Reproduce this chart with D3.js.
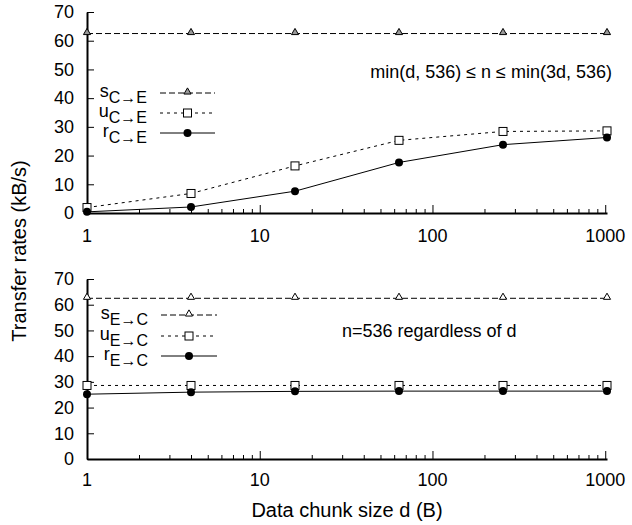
<!DOCTYPE html>
<html>
<head>
<meta charset="utf-8">
<script src="https://cdn.jsdelivr.net/npm/d3@7"></script>
<style>
  body { margin: 0; background: #fff; }
  svg { font-family: "Liberation Sans", Arial, sans-serif; }
</style>
</head>
<body>
<div id="chart"></div>
<script>
// data
const chunkSizes = [1, 4, 16, 64, 256, 1024];
const sCE = [62.5, 62.5, 62.5, 62.5, 62.5, 62.5];
const uCE = [1.9, 6.8, 16.4, 25.3, 28.4, 28.6];
const rCE = [0.4, 2.1, 7.6, 17.6, 23.8, 26.3];
const sEC = [62.5, 62.5, 62.5, 62.5, 62.5, 62.5];
const uEC = [28.6, 28.6, 28.6, 28.6, 28.6, 28.6];
const rEC = [25.2, 26.0, 26.3, 26.4, 26.4, 26.4];
const xTicks = [1, 10, 100, 1000];
const yTicks = [0, 10, 20, 30, 40, 50, 60, 70];

let svg = d3.select("#chart").append("svg")
    .attr("width", 632)
    .attr("height", 525);

let x = d3.scaleLog().domain([1, 1024]).range([87, 607]);

// minor ticks 2..9 per decade
let minors = [];
[1, 10, 100].forEach(d => { for (let k = 2; k <= 9; k++) minors.push(d * k); });

panel({
    y0: 213, y1: 12,
    series: [
        { key: "s", sub: "C\u2192E", vals: sCE, dash: "6,3", mark: "tri", fill: "#999" },
        { key: "u", sub: "C\u2192E", vals: uCE, dash: "3,4", mark: "sq" },
        { key: "r", sub: "C\u2192E", vals: rCE, dash: null, mark: "dot" }
    ],
    legendY: [93, 113, 133], legendX: [147, 160, 215],
    note: "min(d, 536) \u2264 n \u2264 min(3d, 536)", noteX: 612, noteY: 78, noteAnchor: "end",
    tickLabelY: 242
});

panel({
    y0: 459, y1: 279,
    series: [
        { key: "s", sub: "E\u2192C", vals: sEC, dash: "6,3", mark: "tri", fill: "#fff" },
        { key: "u", sub: "E\u2192C", vals: uEC, dash: "3,4", mark: "sq" },
        { key: "r", sub: "E\u2192C", vals: rEC, dash: null, mark: "dot" }
    ],
    legendY: [315, 336, 356], legendX: [148, 161, 217],
    note: "n=536 regardless of d", noteX: 342, noteY: 337, noteAnchor: "start",
    tickLabelY: 486
});

// axis titles
svg.append("text")
    .attr("transform", "translate(26,251) rotate(-90)")
    .style("text-anchor", "middle")
    .style("font-size", "20px")
    .text("Transfer rates (kB/s)");

svg.append("text")
    .attr("x", 347)
    .attr("y", 517)
    .style("text-anchor", "middle")
    .style("font-size", "20px")
    .text("Data chunk size d (B)");

function panel(p) {
    let y = d3.scaleLinear().domain([0, 70]).range([p.y0, p.y1]);
    let g = svg.append("g");

    // x axis, ticks pointing up
    let xa = g.append("g")
        .attr("transform", "translate(0," + p.y0 + ")")
        .call(d3.axisBottom(x).tickValues(xTicks).tickSizeInner(-8).tickSizeOuter(0)
            .tickFormat(d3.format("d")));
    xa.selectAll("text").remove();
    g.append("g")
        .attr("transform", "translate(0," + p.y0 + ")")
        .call(d3.axisBottom(x).tickValues(minors).tickSizeInner(-4).tickSizeOuter(0).tickFormat(""))
        .select(".domain").remove();
    xa.select(".domain").attr("stroke-width", 2);

    g.selectAll(".xlab")
        .data(xTicks)
        .enter()
        .append("text")
        .attr("x", d => x(d))
        .attr("y", p.tickLabelY)
        .style("text-anchor", "middle")
        .style("font-size", "18px")
        .text(d => d);

    // y axis, ticks pointing right
    let ya = g.append("g")
        .attr("transform", "translate(" + x(1) + ",0)")
        .call(d3.axisLeft(y).tickValues(yTicks).tickSizeInner(-7).tickSizeOuter(0).tickPadding(13));
    ya.select(".domain").attr("stroke-width", 2);
    ya.selectAll("text")
        .style("font-size", "18px")
        .style("font-family", "Liberation Sans, Arial, sans-serif")
        .attr("fill", "#000");

    // lines and markers
    let line = d3.line().x((d, i) => x(chunkSizes[i])).y(d => y(d));
    p.series.forEach((s, k) => {
        g.append("path")
            .attr("d", line(s.vals))
            .attr("fill", "none")
            .attr("stroke", "#000")
            .attr("stroke-width", 1)
            .attr("stroke-dasharray", s.dash);
        s.vals.forEach((v, i) => marker(g, s, x(chunkSizes[i]), y(v)));

        // legend entry
        let ly = p.legendY[k];
        g.append("line")
            .attr("x1", p.legendX[1]).attr("x2", p.legendX[2])
            .attr("y1", ly).attr("y2", ly)
            .attr("stroke", "#000")
            .attr("stroke-width", 1)
            .attr("stroke-dasharray", s.dash);
        marker(g, s, (p.legendX[1] + p.legendX[2]) / 2, ly);
        let t = g.append("text")
            .attr("x", p.legendX[0])
            .attr("y", ly + 4)
            .style("text-anchor", "end")
            .style("font-size", "18px");
        t.append("tspan").text(s.key);
        t.append("tspan").attr("dy", 6).style("font-size", "16px").text(s.sub);
    });

    g.append("text")
        .attr("x", p.noteX)
        .attr("y", p.noteY)
        .style("text-anchor", p.noteAnchor)
        .style("font-size", "18px")
        .text(p.note);
}

function marker(g, s, cx, cy) {
    if (s.mark === "tri") {
        g.append("path")
            .attr("d", d3.symbol(d3.symbolTriangle, 22)())
            .attr("transform", "translate(" + cx + "," + (cy - 1) + ")")
            .attr("fill", s.fill)
            .attr("stroke", "#000")
            .attr("stroke-width", 1);
    } else if (s.mark === "sq") {
        g.append("rect")
            .attr("x", cx - 4).attr("y", cy - 4)
            .attr("width", 8).attr("height", 8)
            .attr("fill", "#fff")
            .attr("stroke", "#000")
            .attr("stroke-width", 1);
    } else {
        g.append("circle")
            .attr("cx", cx).attr("cy", cy)
            .attr("r", 4)
            .attr("fill", "#000");
    }
}
</script>
</body>
</html>
